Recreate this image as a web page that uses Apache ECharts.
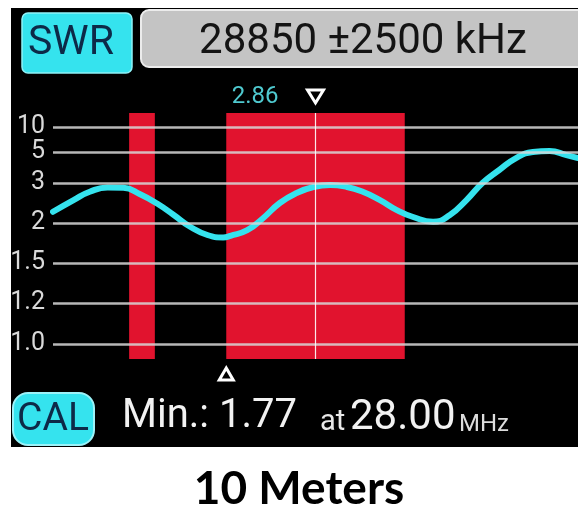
<!DOCTYPE html>
<html>
<head>
<meta charset="utf-8">
<script src="https://cdn.jsdelivr.net/npm/echarts@6/dist/echarts.min.js"></script>
<style>
  html, body { margin: 0; padding: 0; background: #ffffff; }
  #chart { width: 578px; height: 508px; }
</style>
</head>
<body>
<div id="chart"></div>
<script>
// ---------------- data ----------------
const headerLabel = 'SWR';
const rangeLabel = '28850 ±2500 kHz';
const centerFreq = 28850;          // kHz
const spanFreq = 2500;             // kHz (±)
const cursorSwr = '2.86';
const minSwr = '1.77';
const minFreq = 28000;             // kHz
const minFreqLabel = '28.00';
const calLabel = 'CAL';
const chartTitle = '10 Meters';

// SWR axis tick values and labels
const tickValues = [1.0, 1.2, 1.5, 2, 3, 5, 10];
const tickLabels = ['1.0', '1.2', '1.5', '2', '3', '5', '10'];

// highlighted bands (kHz)
const bandStarts = [27075, 28000];
const bandEnds   = [27320, 29700];

// measured SWR curve
const freqs = [26350, 26550, 26700, 26870, 27020, 27180, 27345, 27500, 27660, 27820,
               27970, 28040, 28200, 28350, 28510, 28670, 28830, 28990, 29150, 29300,
               29460, 29620, 29780, 29970, 30130, 30290, 30440, 30600, 30760, 30920,
               31080, 31240, 31350];
const swrValues = [2.28, 2.58, 2.78, 2.89, 2.88, 2.72, 2.48, 2.20, 1.95, 1.85,
                   1.82, 1.84, 1.91, 2.12, 2.50, 2.75, 2.90, 2.95, 2.90, 2.78,
                   2.58, 2.33, 2.15, 2.03, 2.20, 2.58, 3.00, 3.84, 4.61, 5.00,
                   5.20, 4.80, 4.61];

// ---------------- scale (non-uniform SWR ruler) ----------------
const rulerSteps = [0, 41, 81, 121, 161, 192, 217];
function swrToY(v) {
  const n = tickValues.length;
  let i = 0;
  while (i < n - 2 && v > tickValues[i + 1]) i++;
  const t = (v - tickValues[i]) / (tickValues[i + 1] - tickValues[i]);
  return rulerSteps[i] + t * (rulerSteps[i + 1] - rulerSteps[i]);
}

const CYAN = '#35e3ee';
const RED = '#e1132e';
const DEV_FONT = 'Roboto';

const chart = echarts.init(document.getElementById('chart'), null, { renderer: 'canvas' });

const option = {
  animation: false,
  backgroundColor: '#ffffff',
  grid: { left: 53, right: 0, top: 113, bottom: 149 },
  xAxis: {
    type: 'value', min: centerFreq - spanFreq, max: centerFreq + spanFreq,
    show: false, splitLine: { show: false }
  },
  yAxis: {
    type: 'value', min: -15, max: 231, show: false, splitLine: { show: false }
  },
  series: [
    {
      name: 'bands', type: 'line', data: [], z: 1,
      markArea: {
        silent: true,
        itemStyle: { color: RED, opacity: 1 },
        data: bandStarts.map((s, i) => [{ xAxis: s }, { xAxis: bandEnds[i] }])
      }
    },
    {
      name: 'grid', type: 'line', data: [], z: 2,
      markLine: {
        silent: true, symbol: 'none',
        data: tickValues.map((v, i) => ({
          yAxis: swrToY(v),
          lineStyle: { color: 'rgba(215,215,215,0.85)', width: 2.5, type: 'solid' },
          label: {
            show: true, position: 'start', distance: 8,
            formatter: tickLabels[i],
            color: '#d9d9d9', fontFamily: DEV_FONT, fontSize: 25
          }
        })).concat([{
          xAxis: centerFreq,
          lineStyle: { color: 'rgba(255,255,255,0.9)', width: 1.2, type: 'solid' },
          label: { show: false }
        }])
      }
    },
    {
      name: 'SWR', type: 'line', z: 3,
      smooth: 0.5, symbol: 'none',
      lineStyle: { color: CYAN, width: 6, cap: 'round', join: 'round' },
      data: freqs.map((f, i) => [f, swrToY(swrValues[i])])
    }
  ]
};
chart.setOption(option);

// ---------------- overlay (device screen decorations) ----------------
const cursorX = chart.convertToPixel({ gridIndex: 0 }, [centerFreq, 0])[0];
const minX = chart.convertToPixel({ gridIndex: 0 }, [minFreq, 0])[0];

chart.setOption({
  graphic: [
    { type: 'rect', z: -10, silent: true, shape: { x: 11, y: 8, width: 580, height: 439 }, style: { fill: '#000000' } },
    { type: 'rect', z: 10, shape: { x: 22, y: 13, width: 110, height: 60, r: 6 }, style: { fill: CYAN, stroke: '#8ff2f8', lineWidth: 1.5 } },
    { type: 'text', z: 11, x: 71, y: 44, style: { text: headerLabel, fill: '#0d2a48', font: '41px Roboto', align: 'center', verticalAlign: 'middle' } },
    { type: 'rect', z: 10, shape: { x: 141, y: 10, width: 460, height: 57, r: 8 }, style: { fill: '#c4c4c4', stroke: '#ececec', lineWidth: 2 } },
    { type: 'text', z: 11, x: 363, y: 42, style: { text: rangeLabel, fill: '#141414', font: '42px Roboto', align: 'center', verticalAlign: 'middle' } },
    { type: 'text', z: 11, x: cursorX - 37, y: 97, style: { text: cursorSwr, fill: '#4fc9cf', font: '24px Roboto', align: 'right', verticalAlign: 'middle' } },
    { type: 'polygon', z: 11, shape: { points: [[cursorX - 8, 90], [cursorX + 8, 90], [cursorX, 103]] }, style: { fill: '#000', stroke: '#ffffff', lineWidth: 3 } },
    { type: 'polygon', z: 11, shape: { points: [[minX - 7, 380], [minX + 7, 380], [minX, 368]] }, style: { fill: '#000', stroke: '#ffffff', lineWidth: 3 } },
    { type: 'rect', z: 10, shape: { x: 13, y: 393, width: 81, height: 52, r: 15 }, style: { fill: CYAN, stroke: '#9cf2f8', lineWidth: 2 } },
    { type: 'text', z: 11, x: 53, y: 420, style: { text: calLabel, fill: '#0d2a48', font: '39px Roboto', align: 'center', verticalAlign: 'middle' } },
    { type: 'text', z: 11, x: 122, y: 417, style: { text: 'Min.: ' + minSwr, fill: '#f2f2f2', font: '40px Roboto', align: 'left', verticalAlign: 'middle' } },
    { type: 'text', z: 11, x: 320, y: 423, style: { text: 'at', fill: '#e8e8e8', font: '29px Roboto', align: 'left', verticalAlign: 'middle' } },
    { type: 'text', z: 11, x: 350, y: 418, style: { text: minFreqLabel, fill: '#f2f2f2', font: '42px Roboto', align: 'left', verticalAlign: 'middle' } },
    { type: 'text', z: 11, x: 459, y: 425, style: { text: 'MHz', fill: '#dcdcdc', font: '24px Roboto', align: 'left', verticalAlign: 'middle' } },
    { type: 'text', z: 11, x: 299, y: 489, style: { text: chartTitle, fill: '#000000', font: 'bold 46px Lato', align: 'center', verticalAlign: 'middle' } }
  ]
});
</script>
</body>
</html>
